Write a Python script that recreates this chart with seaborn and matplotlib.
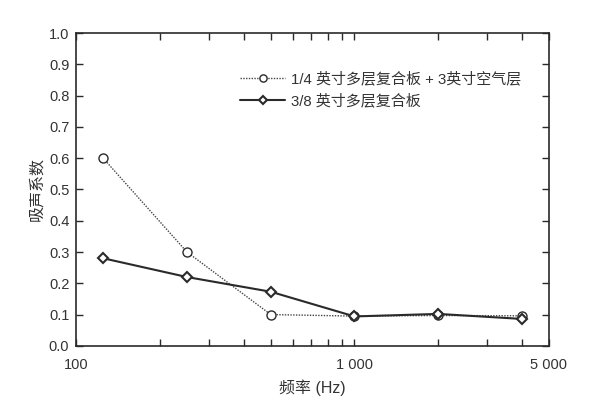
import matplotlib
matplotlib.use('agg')
import numpy as np
import pandas as pd
import matplotlib.pyplot as plt
import matplotlib.ticker as mticker
import seaborn as sns

sns.set_style('ticks')
plt.rcParams['font.family'] = ['Liberation Sans', 'Noto Sans CJK SC']
plt.rcParams['axes.unicode_minus'] = False

# data
freq = [125, 250, 500, 1000, 2000, 4000]
coef_quarter_air = [0.60, 0.30, 0.10, 0.095, 0.097, 0.096]
coef_three_eighths = [0.28, 0.22, 0.173, 0.094, 0.102, 0.086]
label_quarter_air = '1/4 英寸多层复合板 + 3英寸空气层'
label_three_eighths = '3/8 英寸多层复合板'
major_ticks = [100, 1000, 5000]
major_labels = ['100', '1 000', '5 000']

fig = plt.figure(figsize=(6, 4.04), dpi=100)
ax = fig.add_axes([0.127, 0.144, 0.788, 0.774])

ink = '#2a2a2a'
sns.lineplot(x=freq, y=coef_quarter_air, ax=ax, color='#444444', lw=1.0,
             linestyle=(0, (1, 1)), marker='o', markersize=6.5,
             markerfacecolor='white', markeredgecolor=ink, markeredgewidth=1.0,
             label=label_quarter_air)
sns.lineplot(x=freq, y=coef_three_eighths, ax=ax, color=ink, lw=1.5,
             marker='D', markersize=5, markerfacecolor='white',
             markeredgecolor=ink, markeredgewidth=1.5,
             label=label_three_eighths)

ax.set_xscale('log')
ax.set_xlim(100, 5000)
ax.set_ylim(0, 1.0)
ax.xaxis.set_major_locator(mticker.FixedLocator(major_ticks))
ax.xaxis.set_major_formatter(mticker.FixedFormatter(major_labels))
ax.xaxis.set_minor_locator(mticker.FixedLocator([200, 300, 400, 500, 600, 700, 800, 900, 2000, 3000, 4000]))
ax.xaxis.set_minor_formatter(mticker.NullFormatter())
ax.set_yticks(np.arange(0, 1.01, 0.1))
ax.yaxis.set_major_formatter(mticker.FormatStrFormatter('%.1f'))

ax.tick_params(which='both', direction='in', top=True, right=True, colors=ink,
               labelcolor='#333333', labelsize=10.5, width=1.0)
ax.tick_params(which='major', length=5)
ax.tick_params(axis='x', which='major', pad=9)
ax.tick_params(axis='y', which='major', pad=5)
ax.tick_params(which='minor', length=5)
for s in ax.spines.values():
    s.set_color(ink)
    s.set_linewidth(1.2)

ax.set_xlabel('频率 (Hz)', fontsize=11.5, color='#333333', labelpad=5)
ax.set_ylabel('吸声系数', fontsize=11.5, color='#333333', labelpad=3)

leg = ax.legend(loc='upper left', bbox_to_anchor=(0.318, 0.92), frameon=False,
                fontsize=10.8, handlelength=3.0, handletextpad=0.4,
                labelspacing=0.5, markerscale=0.8)
for t in leg.get_texts():
    t.set_color('#333333')

fig.savefig('out.png', dpi=100)
